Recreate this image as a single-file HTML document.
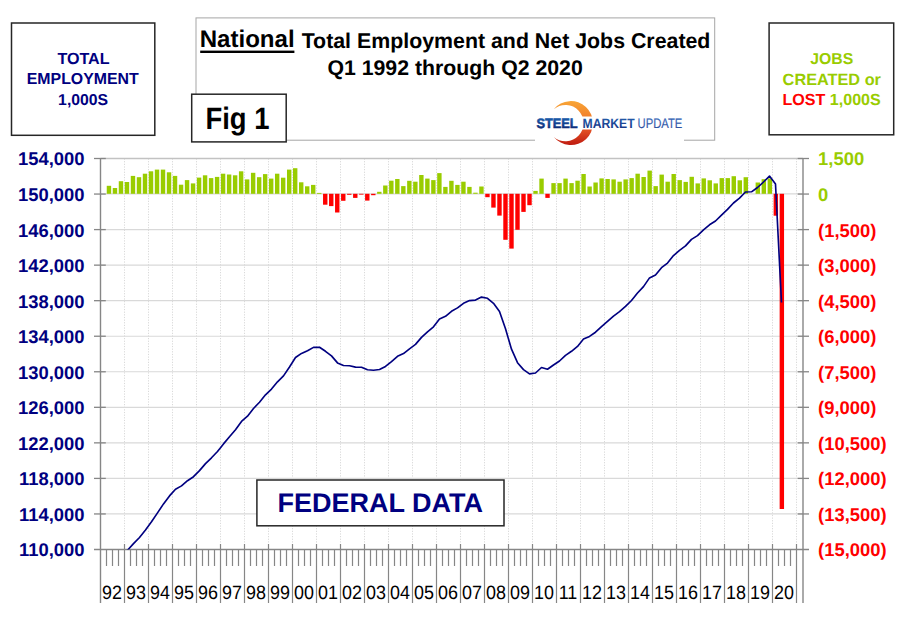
<!DOCTYPE html><html><head><meta charset="utf-8"><title>National Total Employment and Net Jobs Created</title><style>html,body{margin:0;padding:0;background:#fff;}svg{display:block;}</style></head><body>
<svg width="910" height="622" viewBox="0 0 910 622" font-family="Liberation Sans, Arial, sans-serif" text-rendering="geometricPrecision">
<rect x="0" y="0" width="910" height="622" fill="#fff"/>
<line x1="124.5" y1="158.5" x2="124.5" y2="549.5" stroke="#d9d9d9" stroke-width="1" stroke-dasharray="1.2 1.44"/>
<line x1="148.5" y1="158.5" x2="148.5" y2="549.5" stroke="#d9d9d9" stroke-width="1" stroke-dasharray="1.2 1.44"/>
<line x1="172.5" y1="158.5" x2="172.5" y2="549.5" stroke="#d9d9d9" stroke-width="1" stroke-dasharray="1.2 1.44"/>
<line x1="196.5" y1="158.5" x2="196.5" y2="549.5" stroke="#d9d9d9" stroke-width="1" stroke-dasharray="1.2 1.44"/>
<line x1="220.5" y1="158.5" x2="220.5" y2="549.5" stroke="#d9d9d9" stroke-width="1" stroke-dasharray="1.2 1.44"/>
<line x1="244.5" y1="158.5" x2="244.5" y2="549.5" stroke="#d9d9d9" stroke-width="1" stroke-dasharray="1.2 1.44"/>
<line x1="268.5" y1="158.5" x2="268.5" y2="549.5" stroke="#d9d9d9" stroke-width="1" stroke-dasharray="1.2 1.44"/>
<line x1="292.5" y1="158.5" x2="292.5" y2="549.5" stroke="#d9d9d9" stroke-width="1" stroke-dasharray="1.2 1.44"/>
<line x1="316.5" y1="158.5" x2="316.5" y2="549.5" stroke="#d9d9d9" stroke-width="1" stroke-dasharray="1.2 1.44"/>
<line x1="340.5" y1="158.5" x2="340.5" y2="549.5" stroke="#d9d9d9" stroke-width="1" stroke-dasharray="1.2 1.44"/>
<line x1="364.5" y1="158.5" x2="364.5" y2="549.5" stroke="#d9d9d9" stroke-width="1" stroke-dasharray="1.2 1.44"/>
<line x1="388.5" y1="158.5" x2="388.5" y2="549.5" stroke="#d9d9d9" stroke-width="1" stroke-dasharray="1.2 1.44"/>
<line x1="412.5" y1="158.5" x2="412.5" y2="549.5" stroke="#d9d9d9" stroke-width="1" stroke-dasharray="1.2 1.44"/>
<line x1="436.5" y1="158.5" x2="436.5" y2="549.5" stroke="#d9d9d9" stroke-width="1" stroke-dasharray="1.2 1.44"/>
<line x1="460.5" y1="158.5" x2="460.5" y2="549.5" stroke="#d9d9d9" stroke-width="1" stroke-dasharray="1.2 1.44"/>
<line x1="484.5" y1="158.5" x2="484.5" y2="549.5" stroke="#d9d9d9" stroke-width="1" stroke-dasharray="1.2 1.44"/>
<line x1="508.5" y1="158.5" x2="508.5" y2="549.5" stroke="#d9d9d9" stroke-width="1" stroke-dasharray="1.2 1.44"/>
<line x1="532.5" y1="158.5" x2="532.5" y2="549.5" stroke="#d9d9d9" stroke-width="1" stroke-dasharray="1.2 1.44"/>
<line x1="556.5" y1="158.5" x2="556.5" y2="549.5" stroke="#d9d9d9" stroke-width="1" stroke-dasharray="1.2 1.44"/>
<line x1="580.5" y1="158.5" x2="580.5" y2="549.5" stroke="#d9d9d9" stroke-width="1" stroke-dasharray="1.2 1.44"/>
<line x1="604.5" y1="158.5" x2="604.5" y2="549.5" stroke="#d9d9d9" stroke-width="1" stroke-dasharray="1.2 1.44"/>
<line x1="628.5" y1="158.5" x2="628.5" y2="549.5" stroke="#d9d9d9" stroke-width="1" stroke-dasharray="1.2 1.44"/>
<line x1="652.5" y1="158.5" x2="652.5" y2="549.5" stroke="#d9d9d9" stroke-width="1" stroke-dasharray="1.2 1.44"/>
<line x1="676.5" y1="158.5" x2="676.5" y2="549.5" stroke="#d9d9d9" stroke-width="1" stroke-dasharray="1.2 1.44"/>
<line x1="700.5" y1="158.5" x2="700.5" y2="549.5" stroke="#d9d9d9" stroke-width="1" stroke-dasharray="1.2 1.44"/>
<line x1="724.5" y1="158.5" x2="724.5" y2="549.5" stroke="#d9d9d9" stroke-width="1" stroke-dasharray="1.2 1.44"/>
<line x1="748.5" y1="158.5" x2="748.5" y2="549.5" stroke="#d9d9d9" stroke-width="1" stroke-dasharray="1.2 1.44"/>
<line x1="772.5" y1="158.5" x2="772.5" y2="549.5" stroke="#d9d9d9" stroke-width="1" stroke-dasharray="1.2 1.44"/>
<line x1="796.5" y1="158.5" x2="796.5" y2="549.5" stroke="#d9d9d9" stroke-width="1" stroke-dasharray="1.2 1.44"/>
<line x1="100.5" y1="158.50" x2="803.0" y2="158.50" stroke="#c2c2c2" stroke-width="1.4"/>
<line x1="100.5" y1="193.80" x2="803.0" y2="193.80" stroke="#d9d9d9" stroke-width="1.2"/>
<line x1="100.5" y1="229.59" x2="803.0" y2="229.59" stroke="#d9d9d9" stroke-width="1.2"/>
<line x1="100.5" y1="265.14" x2="803.0" y2="265.14" stroke="#d9d9d9" stroke-width="1.2"/>
<line x1="100.5" y1="300.68" x2="803.0" y2="300.68" stroke="#d9d9d9" stroke-width="1.2"/>
<line x1="100.5" y1="336.23" x2="803.0" y2="336.23" stroke="#d9d9d9" stroke-width="1.2"/>
<line x1="100.5" y1="371.77" x2="803.0" y2="371.77" stroke="#d9d9d9" stroke-width="1.2"/>
<line x1="100.5" y1="407.32" x2="803.0" y2="407.32" stroke="#d9d9d9" stroke-width="1.2"/>
<line x1="100.5" y1="442.86" x2="803.0" y2="442.86" stroke="#d9d9d9" stroke-width="1.2"/>
<line x1="100.5" y1="478.41" x2="803.0" y2="478.41" stroke="#d9d9d9" stroke-width="1.2"/>
<line x1="100.5" y1="513.95" x2="803.0" y2="513.95" stroke="#d9d9d9" stroke-width="1.2"/>
<rect x="106.75" y="185.8" width="4.4" height="8.0" fill="#99cc00"/>
<rect x="112.76" y="188.0" width="4.4" height="5.8" fill="#99cc00"/>
<rect x="118.77" y="181.2" width="4.4" height="12.6" fill="#99cc00"/>
<rect x="124.77" y="182.0" width="4.4" height="11.8" fill="#99cc00"/>
<rect x="130.78" y="175.9" width="4.4" height="17.9" fill="#99cc00"/>
<rect x="136.79" y="177.2" width="4.4" height="16.6" fill="#99cc00"/>
<rect x="142.80" y="173.7" width="4.4" height="20.1" fill="#99cc00"/>
<rect x="148.81" y="171.3" width="4.4" height="22.5" fill="#99cc00"/>
<rect x="154.81" y="169.6" width="4.4" height="24.2" fill="#99cc00"/>
<rect x="160.82" y="169.6" width="4.4" height="24.2" fill="#99cc00"/>
<rect x="166.83" y="172.3" width="4.4" height="21.5" fill="#99cc00"/>
<rect x="172.84" y="175.9" width="4.4" height="17.9" fill="#99cc00"/>
<rect x="178.85" y="184.7" width="4.4" height="9.1" fill="#99cc00"/>
<rect x="184.85" y="180.1" width="4.4" height="13.7" fill="#99cc00"/>
<rect x="190.86" y="183.4" width="4.4" height="10.4" fill="#99cc00"/>
<rect x="196.87" y="177.6" width="4.4" height="16.2" fill="#99cc00"/>
<rect x="202.88" y="175.3" width="4.4" height="18.5" fill="#99cc00"/>
<rect x="208.89" y="178.1" width="4.4" height="15.7" fill="#99cc00"/>
<rect x="214.89" y="176.9" width="4.4" height="16.9" fill="#99cc00"/>
<rect x="220.90" y="173.7" width="4.4" height="20.1" fill="#99cc00"/>
<rect x="226.91" y="174.5" width="4.4" height="19.3" fill="#99cc00"/>
<rect x="232.92" y="175.3" width="4.4" height="18.5" fill="#99cc00"/>
<rect x="238.93" y="171.3" width="4.4" height="22.5" fill="#99cc00"/>
<rect x="244.93" y="179.4" width="4.4" height="14.4" fill="#99cc00"/>
<rect x="250.94" y="172.8" width="4.4" height="21.0" fill="#99cc00"/>
<rect x="256.95" y="177.2" width="4.4" height="16.6" fill="#99cc00"/>
<rect x="262.96" y="174.1" width="4.4" height="19.7" fill="#99cc00"/>
<rect x="268.97" y="178.6" width="4.4" height="15.2" fill="#99cc00"/>
<rect x="274.97" y="173.7" width="4.4" height="20.1" fill="#99cc00"/>
<rect x="280.98" y="177.7" width="4.4" height="16.1" fill="#99cc00"/>
<rect x="286.99" y="169.6" width="4.4" height="24.2" fill="#99cc00"/>
<rect x="293.00" y="168.2" width="4.4" height="25.6" fill="#99cc00"/>
<rect x="299.01" y="182.3" width="4.4" height="11.5" fill="#99cc00"/>
<rect x="305.01" y="186.3" width="4.4" height="7.5" fill="#99cc00"/>
<rect x="311.02" y="184.9" width="4.4" height="8.9" fill="#99cc00"/>
<rect x="317.03" y="192.9" width="4.4" height="0.9" fill="#99cc00"/>
<rect x="323.04" y="193.8" width="4.4" height="10.9" fill="#ff0000"/>
<rect x="329.05" y="193.8" width="4.4" height="12.3" fill="#ff0000"/>
<rect x="335.05" y="193.8" width="4.4" height="18.7" fill="#ff0000"/>
<rect x="341.06" y="193.8" width="4.4" height="7.0" fill="#ff0000"/>
<rect x="347.07" y="193.8" width="4.4" height="1.0" fill="#ff0000"/>
<rect x="353.08" y="193.8" width="4.4" height="4.1" fill="#ff0000"/>
<rect x="359.09" y="193.8" width="4.4" height="0.8" fill="#ff0000"/>
<rect x="365.09" y="193.8" width="4.4" height="6.8" fill="#ff0000"/>
<rect x="371.10" y="193.8" width="4.4" height="1.4" fill="#ff0000"/>
<rect x="377.11" y="191.8" width="4.4" height="2.0" fill="#99cc00"/>
<rect x="383.12" y="185.5" width="4.4" height="8.3" fill="#99cc00"/>
<rect x="389.13" y="180.7" width="4.4" height="13.1" fill="#99cc00"/>
<rect x="395.13" y="179.0" width="4.4" height="14.8" fill="#99cc00"/>
<rect x="401.14" y="186.1" width="4.4" height="7.7" fill="#99cc00"/>
<rect x="407.15" y="180.8" width="4.4" height="13.0" fill="#99cc00"/>
<rect x="413.16" y="181.7" width="4.4" height="12.1" fill="#99cc00"/>
<rect x="419.17" y="175.0" width="4.4" height="18.8" fill="#99cc00"/>
<rect x="425.17" y="178.6" width="4.4" height="15.2" fill="#99cc00"/>
<rect x="431.18" y="180.1" width="4.4" height="13.7" fill="#99cc00"/>
<rect x="437.19" y="173.1" width="4.4" height="20.7" fill="#99cc00"/>
<rect x="443.20" y="186.9" width="4.4" height="6.9" fill="#99cc00"/>
<rect x="449.21" y="180.8" width="4.4" height="13.0" fill="#99cc00"/>
<rect x="455.21" y="184.9" width="4.4" height="8.9" fill="#99cc00"/>
<rect x="461.22" y="181.7" width="4.4" height="12.1" fill="#99cc00"/>
<rect x="467.23" y="186.9" width="4.4" height="6.9" fill="#99cc00"/>
<rect x="473.24" y="192.7" width="4.4" height="1.1" fill="#99cc00"/>
<rect x="479.25" y="186.5" width="4.4" height="7.3" fill="#99cc00"/>
<rect x="485.25" y="193.8" width="4.4" height="3.4" fill="#ff0000"/>
<rect x="491.26" y="193.8" width="4.4" height="13.8" fill="#ff0000"/>
<rect x="497.27" y="193.8" width="4.4" height="21.8" fill="#ff0000"/>
<rect x="503.28" y="193.8" width="4.4" height="46.0" fill="#ff0000"/>
<rect x="509.29" y="193.8" width="4.4" height="54.8" fill="#ff0000"/>
<rect x="515.29" y="193.8" width="4.4" height="36.0" fill="#ff0000"/>
<rect x="521.30" y="193.8" width="4.4" height="18.1" fill="#ff0000"/>
<rect x="527.31" y="193.8" width="4.4" height="11.4" fill="#ff0000"/>
<rect x="533.32" y="190.9" width="4.4" height="2.9" fill="#99cc00"/>
<rect x="539.33" y="178.6" width="4.4" height="15.2" fill="#99cc00"/>
<rect x="545.33" y="193.8" width="4.4" height="4.1" fill="#ff0000"/>
<rect x="551.34" y="183.1" width="4.4" height="10.7" fill="#99cc00"/>
<rect x="557.35" y="183.1" width="4.4" height="10.7" fill="#99cc00"/>
<rect x="563.36" y="178.6" width="4.4" height="15.2" fill="#99cc00"/>
<rect x="569.37" y="183.1" width="4.4" height="10.7" fill="#99cc00"/>
<rect x="575.37" y="180.7" width="4.4" height="13.1" fill="#99cc00"/>
<rect x="581.38" y="174.0" width="4.4" height="19.8" fill="#99cc00"/>
<rect x="587.39" y="186.5" width="4.4" height="7.3" fill="#99cc00"/>
<rect x="593.40" y="182.5" width="4.4" height="11.3" fill="#99cc00"/>
<rect x="599.41" y="178.4" width="4.4" height="15.4" fill="#99cc00"/>
<rect x="605.41" y="179.0" width="4.4" height="14.8" fill="#99cc00"/>
<rect x="611.42" y="179.4" width="4.4" height="14.4" fill="#99cc00"/>
<rect x="617.43" y="181.7" width="4.4" height="12.1" fill="#99cc00"/>
<rect x="623.44" y="179.4" width="4.4" height="14.4" fill="#99cc00"/>
<rect x="629.45" y="178.1" width="4.4" height="15.7" fill="#99cc00"/>
<rect x="635.45" y="173.7" width="4.4" height="20.1" fill="#99cc00"/>
<rect x="641.46" y="177.0" width="4.4" height="16.8" fill="#99cc00"/>
<rect x="647.47" y="170.6" width="4.4" height="23.2" fill="#99cc00"/>
<rect x="653.48" y="186.1" width="4.4" height="7.7" fill="#99cc00"/>
<rect x="659.49" y="174.6" width="4.4" height="19.2" fill="#99cc00"/>
<rect x="665.49" y="181.7" width="4.4" height="12.1" fill="#99cc00"/>
<rect x="671.50" y="174.0" width="4.4" height="19.8" fill="#99cc00"/>
<rect x="677.51" y="180.1" width="4.4" height="13.7" fill="#99cc00"/>
<rect x="683.52" y="181.9" width="4.4" height="11.9" fill="#99cc00"/>
<rect x="689.53" y="176.8" width="4.4" height="17.0" fill="#99cc00"/>
<rect x="695.53" y="183.4" width="4.4" height="10.4" fill="#99cc00"/>
<rect x="701.54" y="178.4" width="4.4" height="15.4" fill="#99cc00"/>
<rect x="707.55" y="180.3" width="4.4" height="13.5" fill="#99cc00"/>
<rect x="713.56" y="183.4" width="4.4" height="10.4" fill="#99cc00"/>
<rect x="719.57" y="178.1" width="4.4" height="15.7" fill="#99cc00"/>
<rect x="725.57" y="178.1" width="4.4" height="15.7" fill="#99cc00"/>
<rect x="731.58" y="176.2" width="4.4" height="17.6" fill="#99cc00"/>
<rect x="737.59" y="180.3" width="4.4" height="13.5" fill="#99cc00"/>
<rect x="743.60" y="177.2" width="4.4" height="16.6" fill="#99cc00"/>
<rect x="755.61" y="182.5" width="4.4" height="11.3" fill="#99cc00"/>
<rect x="761.62" y="179.2" width="4.4" height="14.6" fill="#99cc00"/>
<rect x="767.63" y="178.4" width="4.4" height="15.4" fill="#99cc00"/>
<rect x="773.64" y="193.8" width="4.4" height="21.9" fill="#ff0000"/>
<rect x="779.65" y="193.8" width="4.4" height="315.2" fill="#ff0000"/>
<line x1="100.5" y1="158.0" x2="100.5" y2="603" stroke="#868686" stroke-width="1.4"/>
<line x1="803.0" y1="158.0" x2="803.0" y2="603" stroke="#868686" stroke-width="1.4"/>
<line x1="94" y1="549.5" x2="809" y2="549.5" stroke="#868686" stroke-width="1.4"/>
<line x1="94" y1="158.50" x2="105.8" y2="158.50" stroke="#868686" stroke-width="1.3"/>
<line x1="797.7" y1="158.50" x2="809" y2="158.50" stroke="#868686" stroke-width="1.3"/>
<line x1="94" y1="194.05" x2="105.8" y2="194.05" stroke="#868686" stroke-width="1.3"/>
<line x1="797.7" y1="194.05" x2="809" y2="194.05" stroke="#868686" stroke-width="1.3"/>
<line x1="94" y1="229.59" x2="105.8" y2="229.59" stroke="#868686" stroke-width="1.3"/>
<line x1="797.7" y1="229.59" x2="809" y2="229.59" stroke="#868686" stroke-width="1.3"/>
<line x1="94" y1="265.14" x2="105.8" y2="265.14" stroke="#868686" stroke-width="1.3"/>
<line x1="797.7" y1="265.14" x2="809" y2="265.14" stroke="#868686" stroke-width="1.3"/>
<line x1="94" y1="300.68" x2="105.8" y2="300.68" stroke="#868686" stroke-width="1.3"/>
<line x1="797.7" y1="300.68" x2="809" y2="300.68" stroke="#868686" stroke-width="1.3"/>
<line x1="94" y1="336.23" x2="105.8" y2="336.23" stroke="#868686" stroke-width="1.3"/>
<line x1="797.7" y1="336.23" x2="809" y2="336.23" stroke="#868686" stroke-width="1.3"/>
<line x1="94" y1="371.77" x2="105.8" y2="371.77" stroke="#868686" stroke-width="1.3"/>
<line x1="797.7" y1="371.77" x2="809" y2="371.77" stroke="#868686" stroke-width="1.3"/>
<line x1="94" y1="407.32" x2="105.8" y2="407.32" stroke="#868686" stroke-width="1.3"/>
<line x1="797.7" y1="407.32" x2="809" y2="407.32" stroke="#868686" stroke-width="1.3"/>
<line x1="94" y1="442.86" x2="105.8" y2="442.86" stroke="#868686" stroke-width="1.3"/>
<line x1="797.7" y1="442.86" x2="809" y2="442.86" stroke="#868686" stroke-width="1.3"/>
<line x1="94" y1="478.41" x2="105.8" y2="478.41" stroke="#868686" stroke-width="1.3"/>
<line x1="797.7" y1="478.41" x2="809" y2="478.41" stroke="#868686" stroke-width="1.3"/>
<line x1="94" y1="513.95" x2="105.8" y2="513.95" stroke="#868686" stroke-width="1.3"/>
<line x1="797.7" y1="513.95" x2="809" y2="513.95" stroke="#868686" stroke-width="1.3"/>
<line x1="124.5" y1="544" x2="124.5" y2="603" stroke="#868686" stroke-width="1.2"/>
<line x1="148.5" y1="544" x2="148.5" y2="603" stroke="#868686" stroke-width="1.2"/>
<line x1="172.5" y1="544" x2="172.5" y2="603" stroke="#868686" stroke-width="1.2"/>
<line x1="196.5" y1="544" x2="196.5" y2="603" stroke="#868686" stroke-width="1.2"/>
<line x1="220.5" y1="544" x2="220.5" y2="603" stroke="#868686" stroke-width="1.2"/>
<line x1="244.5" y1="544" x2="244.5" y2="603" stroke="#868686" stroke-width="1.2"/>
<line x1="268.5" y1="544" x2="268.5" y2="603" stroke="#868686" stroke-width="1.2"/>
<line x1="292.5" y1="544" x2="292.5" y2="603" stroke="#868686" stroke-width="1.2"/>
<line x1="316.5" y1="544" x2="316.5" y2="603" stroke="#868686" stroke-width="1.2"/>
<line x1="340.5" y1="544" x2="340.5" y2="603" stroke="#868686" stroke-width="1.2"/>
<line x1="364.5" y1="544" x2="364.5" y2="603" stroke="#868686" stroke-width="1.2"/>
<line x1="388.5" y1="544" x2="388.5" y2="603" stroke="#868686" stroke-width="1.2"/>
<line x1="412.5" y1="544" x2="412.5" y2="603" stroke="#868686" stroke-width="1.2"/>
<line x1="436.5" y1="544" x2="436.5" y2="603" stroke="#868686" stroke-width="1.2"/>
<line x1="460.5" y1="544" x2="460.5" y2="603" stroke="#868686" stroke-width="1.2"/>
<line x1="484.5" y1="544" x2="484.5" y2="603" stroke="#868686" stroke-width="1.2"/>
<line x1="508.5" y1="544" x2="508.5" y2="603" stroke="#868686" stroke-width="1.2"/>
<line x1="532.5" y1="544" x2="532.5" y2="603" stroke="#868686" stroke-width="1.2"/>
<line x1="556.5" y1="544" x2="556.5" y2="603" stroke="#868686" stroke-width="1.2"/>
<line x1="580.5" y1="544" x2="580.5" y2="603" stroke="#868686" stroke-width="1.2"/>
<line x1="604.5" y1="544" x2="604.5" y2="603" stroke="#868686" stroke-width="1.2"/>
<line x1="628.5" y1="544" x2="628.5" y2="603" stroke="#868686" stroke-width="1.2"/>
<line x1="652.5" y1="544" x2="652.5" y2="603" stroke="#868686" stroke-width="1.2"/>
<line x1="676.5" y1="544" x2="676.5" y2="603" stroke="#868686" stroke-width="1.2"/>
<line x1="700.5" y1="544" x2="700.5" y2="603" stroke="#868686" stroke-width="1.2"/>
<line x1="724.5" y1="544" x2="724.5" y2="603" stroke="#868686" stroke-width="1.2"/>
<line x1="748.5" y1="544" x2="748.5" y2="603" stroke="#868686" stroke-width="1.2"/>
<line x1="772.5" y1="544" x2="772.5" y2="603" stroke="#868686" stroke-width="1.2"/>
<line x1="796.5" y1="544" x2="796.5" y2="603" stroke="#868686" stroke-width="1.2"/>
<line x1="106.5" y1="549.5" x2="106.5" y2="566" stroke="#868686" stroke-width="1.2"/>
<line x1="112.5" y1="549.5" x2="112.5" y2="566" stroke="#868686" stroke-width="1.2"/>
<line x1="118.5" y1="549.5" x2="118.5" y2="566" stroke="#868686" stroke-width="1.2"/>
<line x1="130.5" y1="549.5" x2="130.5" y2="566" stroke="#868686" stroke-width="1.2"/>
<line x1="136.5" y1="549.5" x2="136.5" y2="566" stroke="#868686" stroke-width="1.2"/>
<line x1="142.5" y1="549.5" x2="142.5" y2="566" stroke="#868686" stroke-width="1.2"/>
<line x1="154.5" y1="549.5" x2="154.5" y2="566" stroke="#868686" stroke-width="1.2"/>
<line x1="160.5" y1="549.5" x2="160.5" y2="566" stroke="#868686" stroke-width="1.2"/>
<line x1="166.5" y1="549.5" x2="166.5" y2="566" stroke="#868686" stroke-width="1.2"/>
<line x1="178.5" y1="549.5" x2="178.5" y2="566" stroke="#868686" stroke-width="1.2"/>
<line x1="184.5" y1="549.5" x2="184.5" y2="566" stroke="#868686" stroke-width="1.2"/>
<line x1="190.5" y1="549.5" x2="190.5" y2="566" stroke="#868686" stroke-width="1.2"/>
<line x1="202.5" y1="549.5" x2="202.5" y2="566" stroke="#868686" stroke-width="1.2"/>
<line x1="208.5" y1="549.5" x2="208.5" y2="566" stroke="#868686" stroke-width="1.2"/>
<line x1="214.5" y1="549.5" x2="214.5" y2="566" stroke="#868686" stroke-width="1.2"/>
<line x1="226.5" y1="549.5" x2="226.5" y2="566" stroke="#868686" stroke-width="1.2"/>
<line x1="232.5" y1="549.5" x2="232.5" y2="566" stroke="#868686" stroke-width="1.2"/>
<line x1="238.5" y1="549.5" x2="238.5" y2="566" stroke="#868686" stroke-width="1.2"/>
<line x1="250.5" y1="549.5" x2="250.5" y2="566" stroke="#868686" stroke-width="1.2"/>
<line x1="256.5" y1="549.5" x2="256.5" y2="566" stroke="#868686" stroke-width="1.2"/>
<line x1="262.5" y1="549.5" x2="262.5" y2="566" stroke="#868686" stroke-width="1.2"/>
<line x1="274.5" y1="549.5" x2="274.5" y2="566" stroke="#868686" stroke-width="1.2"/>
<line x1="280.5" y1="549.5" x2="280.5" y2="566" stroke="#868686" stroke-width="1.2"/>
<line x1="286.5" y1="549.5" x2="286.5" y2="566" stroke="#868686" stroke-width="1.2"/>
<line x1="298.5" y1="549.5" x2="298.5" y2="566" stroke="#868686" stroke-width="1.2"/>
<line x1="304.5" y1="549.5" x2="304.5" y2="566" stroke="#868686" stroke-width="1.2"/>
<line x1="310.5" y1="549.5" x2="310.5" y2="566" stroke="#868686" stroke-width="1.2"/>
<line x1="322.5" y1="549.5" x2="322.5" y2="566" stroke="#868686" stroke-width="1.2"/>
<line x1="328.5" y1="549.5" x2="328.5" y2="566" stroke="#868686" stroke-width="1.2"/>
<line x1="334.5" y1="549.5" x2="334.5" y2="566" stroke="#868686" stroke-width="1.2"/>
<line x1="346.5" y1="549.5" x2="346.5" y2="566" stroke="#868686" stroke-width="1.2"/>
<line x1="352.5" y1="549.5" x2="352.5" y2="566" stroke="#868686" stroke-width="1.2"/>
<line x1="358.5" y1="549.5" x2="358.5" y2="566" stroke="#868686" stroke-width="1.2"/>
<line x1="370.5" y1="549.5" x2="370.5" y2="566" stroke="#868686" stroke-width="1.2"/>
<line x1="376.5" y1="549.5" x2="376.5" y2="566" stroke="#868686" stroke-width="1.2"/>
<line x1="382.5" y1="549.5" x2="382.5" y2="566" stroke="#868686" stroke-width="1.2"/>
<line x1="394.5" y1="549.5" x2="394.5" y2="566" stroke="#868686" stroke-width="1.2"/>
<line x1="400.5" y1="549.5" x2="400.5" y2="566" stroke="#868686" stroke-width="1.2"/>
<line x1="406.5" y1="549.5" x2="406.5" y2="566" stroke="#868686" stroke-width="1.2"/>
<line x1="418.5" y1="549.5" x2="418.5" y2="566" stroke="#868686" stroke-width="1.2"/>
<line x1="424.5" y1="549.5" x2="424.5" y2="566" stroke="#868686" stroke-width="1.2"/>
<line x1="430.5" y1="549.5" x2="430.5" y2="566" stroke="#868686" stroke-width="1.2"/>
<line x1="442.5" y1="549.5" x2="442.5" y2="566" stroke="#868686" stroke-width="1.2"/>
<line x1="448.5" y1="549.5" x2="448.5" y2="566" stroke="#868686" stroke-width="1.2"/>
<line x1="454.5" y1="549.5" x2="454.5" y2="566" stroke="#868686" stroke-width="1.2"/>
<line x1="466.5" y1="549.5" x2="466.5" y2="566" stroke="#868686" stroke-width="1.2"/>
<line x1="472.5" y1="549.5" x2="472.5" y2="566" stroke="#868686" stroke-width="1.2"/>
<line x1="478.5" y1="549.5" x2="478.5" y2="566" stroke="#868686" stroke-width="1.2"/>
<line x1="490.5" y1="549.5" x2="490.5" y2="566" stroke="#868686" stroke-width="1.2"/>
<line x1="496.5" y1="549.5" x2="496.5" y2="566" stroke="#868686" stroke-width="1.2"/>
<line x1="502.5" y1="549.5" x2="502.5" y2="566" stroke="#868686" stroke-width="1.2"/>
<line x1="514.5" y1="549.5" x2="514.5" y2="566" stroke="#868686" stroke-width="1.2"/>
<line x1="520.5" y1="549.5" x2="520.5" y2="566" stroke="#868686" stroke-width="1.2"/>
<line x1="526.5" y1="549.5" x2="526.5" y2="566" stroke="#868686" stroke-width="1.2"/>
<line x1="538.5" y1="549.5" x2="538.5" y2="566" stroke="#868686" stroke-width="1.2"/>
<line x1="544.5" y1="549.5" x2="544.5" y2="566" stroke="#868686" stroke-width="1.2"/>
<line x1="550.5" y1="549.5" x2="550.5" y2="566" stroke="#868686" stroke-width="1.2"/>
<line x1="562.5" y1="549.5" x2="562.5" y2="566" stroke="#868686" stroke-width="1.2"/>
<line x1="568.5" y1="549.5" x2="568.5" y2="566" stroke="#868686" stroke-width="1.2"/>
<line x1="574.5" y1="549.5" x2="574.5" y2="566" stroke="#868686" stroke-width="1.2"/>
<line x1="586.5" y1="549.5" x2="586.5" y2="566" stroke="#868686" stroke-width="1.2"/>
<line x1="592.5" y1="549.5" x2="592.5" y2="566" stroke="#868686" stroke-width="1.2"/>
<line x1="598.5" y1="549.5" x2="598.5" y2="566" stroke="#868686" stroke-width="1.2"/>
<line x1="610.5" y1="549.5" x2="610.5" y2="566" stroke="#868686" stroke-width="1.2"/>
<line x1="616.5" y1="549.5" x2="616.5" y2="566" stroke="#868686" stroke-width="1.2"/>
<line x1="622.5" y1="549.5" x2="622.5" y2="566" stroke="#868686" stroke-width="1.2"/>
<line x1="634.5" y1="549.5" x2="634.5" y2="566" stroke="#868686" stroke-width="1.2"/>
<line x1="640.5" y1="549.5" x2="640.5" y2="566" stroke="#868686" stroke-width="1.2"/>
<line x1="646.5" y1="549.5" x2="646.5" y2="566" stroke="#868686" stroke-width="1.2"/>
<line x1="658.5" y1="549.5" x2="658.5" y2="566" stroke="#868686" stroke-width="1.2"/>
<line x1="664.5" y1="549.5" x2="664.5" y2="566" stroke="#868686" stroke-width="1.2"/>
<line x1="670.5" y1="549.5" x2="670.5" y2="566" stroke="#868686" stroke-width="1.2"/>
<line x1="682.5" y1="549.5" x2="682.5" y2="566" stroke="#868686" stroke-width="1.2"/>
<line x1="688.5" y1="549.5" x2="688.5" y2="566" stroke="#868686" stroke-width="1.2"/>
<line x1="694.5" y1="549.5" x2="694.5" y2="566" stroke="#868686" stroke-width="1.2"/>
<line x1="706.5" y1="549.5" x2="706.5" y2="566" stroke="#868686" stroke-width="1.2"/>
<line x1="712.5" y1="549.5" x2="712.5" y2="566" stroke="#868686" stroke-width="1.2"/>
<line x1="718.5" y1="549.5" x2="718.5" y2="566" stroke="#868686" stroke-width="1.2"/>
<line x1="730.5" y1="549.5" x2="730.5" y2="566" stroke="#868686" stroke-width="1.2"/>
<line x1="736.5" y1="549.5" x2="736.5" y2="566" stroke="#868686" stroke-width="1.2"/>
<line x1="742.5" y1="549.5" x2="742.5" y2="566" stroke="#868686" stroke-width="1.2"/>
<line x1="754.5" y1="549.5" x2="754.5" y2="566" stroke="#868686" stroke-width="1.2"/>
<line x1="760.5" y1="549.5" x2="760.5" y2="566" stroke="#868686" stroke-width="1.2"/>
<line x1="766.5" y1="549.5" x2="766.5" y2="566" stroke="#868686" stroke-width="1.2"/>
<line x1="778.5" y1="549.5" x2="778.5" y2="566" stroke="#868686" stroke-width="1.2"/>
<line x1="784.5" y1="549.5" x2="784.5" y2="566" stroke="#868686" stroke-width="1.2"/>
<line x1="790.5" y1="549.5" x2="790.5" y2="566" stroke="#868686" stroke-width="1.2"/>
<defs><clipPath id="pc"><rect x="100.5" y="153.5" width="702.5" height="396.0"/></clipPath></defs>
<polyline clip-path="url(#pc)" points="103.5,564.1 109.5,561.1 115.5,559.1 121.5,554.5 127.5,550.2 133.5,543.6 139.5,537.5 145.5,530.0 151.5,521.8 157.5,512.9 163.5,503.9 169.5,495.9 175.5,489.2 181.5,485.9 187.5,480.7 193.5,476.7 199.5,470.6 205.5,463.6 211.5,457.8 217.5,451.5 223.5,443.9 229.5,436.7 235.5,429.7 241.5,421.4 247.5,416.2 253.5,408.5 259.5,402.2 265.5,394.8 271.5,389.1 277.5,381.8 283.5,375.9 289.5,367.0 295.5,357.5 301.5,353.4 307.5,350.7 313.5,347.4 319.5,347.2 325.5,351.3 331.5,355.9 337.5,362.9 343.5,365.5 349.5,365.7 355.5,367.1 361.5,367.3 367.5,369.8 373.5,370.3 379.5,369.5 385.5,366.4 391.5,361.6 397.5,356.3 403.5,353.6 409.5,348.8 415.5,344.4 421.5,337.4 427.5,331.8 433.5,326.8 439.5,318.9 445.5,316.3 451.5,311.3 457.5,307.9 463.5,303.3 469.5,300.6 475.5,300.1 481.5,297.1 487.5,298.3 493.5,303.3 499.5,311.5 505.5,328.7 511.5,349.2 517.5,362.7 523.5,369.6 529.5,373.9 535.5,373.0 541.5,367.5 547.5,369.2 553.5,365.0 559.5,361.0 565.5,355.4 571.5,351.3 577.5,346.4 583.5,339.1 589.5,336.4 595.5,332.2 601.5,326.6 607.5,321.3 613.5,316.1 619.5,311.6 625.5,306.4 631.5,300.5 637.5,293.0 643.5,286.6 649.5,277.9 655.5,275.0 661.5,267.7 667.5,263.1 673.5,255.6 679.5,250.3 685.5,245.9 691.5,239.4 697.5,235.6 703.5,229.8 709.5,224.8 715.5,221.0 721.5,215.2 727.5,209.4 733.5,203.0 739.5,198.1 745.5,192.0 751.5,191.8 757.5,187.5 763.5,182.0 769.5,176.1 775.5,184.1 781.5,302.5" fill="none" stroke="#000080" stroke-width="1.65" stroke-linejoin="round"/>
<text x="84.5" y="165.4" font-size="18.4" font-weight="bold" fill="#000080" text-anchor="end">154,000</text>
<text x="84.5" y="200.9" font-size="18.4" font-weight="bold" fill="#000080" text-anchor="end">150,000</text>
<text x="84.5" y="236.5" font-size="18.4" font-weight="bold" fill="#000080" text-anchor="end">146,000</text>
<text x="84.5" y="272.0" font-size="18.4" font-weight="bold" fill="#000080" text-anchor="end">142,000</text>
<text x="84.5" y="307.6" font-size="18.4" font-weight="bold" fill="#000080" text-anchor="end">138,000</text>
<text x="84.5" y="343.1" font-size="18.4" font-weight="bold" fill="#000080" text-anchor="end">134,000</text>
<text x="84.5" y="378.7" font-size="18.4" font-weight="bold" fill="#000080" text-anchor="end">130,000</text>
<text x="84.5" y="414.2" font-size="18.4" font-weight="bold" fill="#000080" text-anchor="end">126,000</text>
<text x="84.5" y="449.8" font-size="18.4" font-weight="bold" fill="#000080" text-anchor="end">122,000</text>
<text x="84.5" y="485.3" font-size="18.4" font-weight="bold" fill="#000080" text-anchor="end">118,000</text>
<text x="84.5" y="520.9" font-size="18.4" font-weight="bold" fill="#000080" text-anchor="end">114,000</text>
<text x="84.5" y="556.4" font-size="18.4" font-weight="bold" fill="#000080" text-anchor="end">110,000</text>
<text x="818.1" y="165.4" font-size="18.4" font-weight="bold" fill="#99cc00">1,500</text>
<text x="818.1" y="200.9" font-size="18.4" font-weight="bold" fill="#99cc00">0</text>
<text x="818.1" y="236.5" font-size="18.4" font-weight="bold" fill="#ff0000">(1,500)</text>
<text x="818.1" y="272.0" font-size="18.4" font-weight="bold" fill="#ff0000">(3,000)</text>
<text x="818.1" y="307.6" font-size="18.4" font-weight="bold" fill="#ff0000">(4,500)</text>
<text x="818.1" y="343.1" font-size="18.4" font-weight="bold" fill="#ff0000">(6,000)</text>
<text x="818.1" y="378.7" font-size="18.4" font-weight="bold" fill="#ff0000">(7,500)</text>
<text x="818.1" y="414.2" font-size="18.4" font-weight="bold" fill="#ff0000">(9,000)</text>
<text x="818.1" y="449.8" font-size="18.4" font-weight="bold" fill="#ff0000">(10,500)</text>
<text x="818.1" y="485.3" font-size="18.4" font-weight="bold" fill="#ff0000">(12,000)</text>
<text x="818.1" y="520.9" font-size="18.4" font-weight="bold" fill="#ff0000">(13,500)</text>
<text x="818.1" y="556.4" font-size="18.4" font-weight="bold" fill="#ff0000">(15,000)</text>
<text transform="translate(112.00,598.7) scale(0.93,1)" font-size="19.3" fill="#000" text-anchor="middle">92</text>
<text transform="translate(136.00,598.7) scale(0.93,1)" font-size="19.3" fill="#000" text-anchor="middle">93</text>
<text transform="translate(160.00,598.7) scale(0.93,1)" font-size="19.3" fill="#000" text-anchor="middle">94</text>
<text transform="translate(184.00,598.7) scale(0.93,1)" font-size="19.3" fill="#000" text-anchor="middle">95</text>
<text transform="translate(208.00,598.7) scale(0.93,1)" font-size="19.3" fill="#000" text-anchor="middle">96</text>
<text transform="translate(232.00,598.7) scale(0.93,1)" font-size="19.3" fill="#000" text-anchor="middle">97</text>
<text transform="translate(256.00,598.7) scale(0.93,1)" font-size="19.3" fill="#000" text-anchor="middle">98</text>
<text transform="translate(280.00,598.7) scale(0.93,1)" font-size="19.3" fill="#000" text-anchor="middle">99</text>
<text transform="translate(304.00,598.7) scale(0.93,1)" font-size="19.3" fill="#000" text-anchor="middle">00</text>
<text transform="translate(328.00,598.7) scale(0.93,1)" font-size="19.3" fill="#000" text-anchor="middle">01</text>
<text transform="translate(352.00,598.7) scale(0.93,1)" font-size="19.3" fill="#000" text-anchor="middle">02</text>
<text transform="translate(376.00,598.7) scale(0.93,1)" font-size="19.3" fill="#000" text-anchor="middle">03</text>
<text transform="translate(400.00,598.7) scale(0.93,1)" font-size="19.3" fill="#000" text-anchor="middle">04</text>
<text transform="translate(424.00,598.7) scale(0.93,1)" font-size="19.3" fill="#000" text-anchor="middle">05</text>
<text transform="translate(448.00,598.7) scale(0.93,1)" font-size="19.3" fill="#000" text-anchor="middle">06</text>
<text transform="translate(472.00,598.7) scale(0.93,1)" font-size="19.3" fill="#000" text-anchor="middle">07</text>
<text transform="translate(496.00,598.7) scale(0.93,1)" font-size="19.3" fill="#000" text-anchor="middle">08</text>
<text transform="translate(520.00,598.7) scale(0.93,1)" font-size="19.3" fill="#000" text-anchor="middle">09</text>
<text transform="translate(544.00,598.7) scale(0.93,1)" font-size="19.3" fill="#000" text-anchor="middle">10</text>
<text transform="translate(568.00,598.7) scale(0.93,1)" font-size="19.3" fill="#000" text-anchor="middle">11</text>
<text transform="translate(592.00,598.7) scale(0.93,1)" font-size="19.3" fill="#000" text-anchor="middle">12</text>
<text transform="translate(616.00,598.7) scale(0.93,1)" font-size="19.3" fill="#000" text-anchor="middle">13</text>
<text transform="translate(640.00,598.7) scale(0.93,1)" font-size="19.3" fill="#000" text-anchor="middle">14</text>
<text transform="translate(664.00,598.7) scale(0.93,1)" font-size="19.3" fill="#000" text-anchor="middle">15</text>
<text transform="translate(688.00,598.7) scale(0.93,1)" font-size="19.3" fill="#000" text-anchor="middle">16</text>
<text transform="translate(712.00,598.7) scale(0.93,1)" font-size="19.3" fill="#000" text-anchor="middle">17</text>
<text transform="translate(736.00,598.7) scale(0.93,1)" font-size="19.3" fill="#000" text-anchor="middle">18</text>
<text transform="translate(760.00,598.7) scale(0.93,1)" font-size="19.3" fill="#000" text-anchor="middle">19</text>
<text transform="translate(784.00,598.7) scale(0.93,1)" font-size="19.3" fill="#000" text-anchor="middle">20</text>
<rect x="11.5" y="23" width="143.3" height="112.3" fill="#fff" stroke="#262626" stroke-width="1.5"/>
<text transform="translate(57.39,64.04) scale(1.000,1)" font-size="16.13" font-weight="bold" fill="#000080">TOTAL</text>
<text transform="translate(26.76,84.42) scale(1.000,1)" font-size="15.89" font-weight="bold" fill="#000080">EMPLOYMENT</text>
<text transform="translate(58.11,104.70) scale(1.000,1)" font-size="15.77" font-weight="bold" fill="#000080">1,000S</text>
<rect x="769.1" y="23" width="124.6" height="111.8" fill="#fff" stroke="#262626" stroke-width="1.5"/>
<text transform="translate(810.28,63.64) scale(1.000,1)" font-size="15.80" font-weight="bold" fill="#99cc00">JOBS</text>
<text transform="translate(782.62,84.86) scale(1.000,1)" font-size="16.29" font-weight="bold" fill="#99cc00">CREATED or</text>
<text transform="translate(782.39,104.92) scale(1.000,1)" font-size="16.10" font-weight="bold" fill="#99cc00"><tspan fill="#ff0000">LOST</tspan> 1,000S</text>
<rect x="196" y="17.9" width="518.7" height="122.3" fill="#fff" stroke="#a6a6a6" stroke-width="1"/>
<text transform="translate(199.67,47.32) scale(1.000,1)" font-size="24.09" font-weight="bold" fill="#000">National</text>
<text transform="translate(301.65,47.54) scale(1.000,1)" font-size="21.35" font-weight="bold" fill="#000">Total Employment and Net Jobs Created</text>
<rect x="200.2" y="50.6" width="94.2" height="2.4" fill="#000"/>
<text transform="translate(327.44,75.00) scale(1.000,1)" font-size="21.28" font-weight="bold" fill="#000">Q1 1992 through Q2 2020</text>
<rect x="191.7" y="94.2" width="94.5" height="47.7" fill="#fff" stroke="#262626" stroke-width="1.5"/>
<text transform="translate(205.40,128.50) scale(0.885,1)" font-size="31.00" font-weight="bold" fill="#000">Fig 1</text>
<defs><linearGradient id="arc" x1="0" y1="0" x2="0" y2="1"><stop offset="0" stop-color="#f8a535"/><stop offset="0.45" stop-color="#f0772a"/><stop offset="0.62" stop-color="#e65626"/><stop offset="1" stop-color="#bf1a10"/></linearGradient><linearGradient id="bl" x1="0" y1="0" x2="0" y2="1"><stop offset="0" stop-color="#1d68b8"/><stop offset="1" stop-color="#0a226e"/></linearGradient><linearGradient id="bl2" x1="0" y1="0" x2="0" y2="1"><stop offset="0" stop-color="#2563b0"/><stop offset="1" stop-color="#142f80"/></linearGradient><linearGradient id="bl3" x1="0" y1="0" x2="0" y2="1"><stop offset="0" stop-color="#3f70bf"/><stop offset="1" stop-color="#2a4a9a"/></linearGradient></defs>
<rect x="535" y="136" width="149" height="8" fill="#fff"/>
<path d="M553.8,109.3 A22,22 0 1 1 553.8,136.9 A18.1,18.1 0 1 0 553.8,109.3 Z" fill="url(#arc)"/>
<rect x="578" y="116.5" width="17" height="13" fill="#fff"/>
<text transform="translate(536.4,127.6) scale(0.94,1)" font-size="13.6" font-weight="bold" fill="url(#bl)" stroke="url(#bl)" stroke-width="0.55">STEEL</text>
<text transform="translate(582.6,127.7) scale(0.915,1)" font-size="13.3" font-weight="bold" fill="url(#bl2)" stroke="none">MARKET</text>
<text transform="translate(637.6,127.7) scale(0.82,1)" font-size="13.7" fill="url(#bl3)" stroke="url(#bl3)" stroke-width="0.15">UPDATE</text>
<rect x="256.9" y="480" width="247.1" height="45.8" fill="#fff" stroke="#262626" stroke-width="1.5"/>
<text transform="translate(277.48,512.42) scale(1.000,1)" font-size="27.00" font-weight="bold" fill="#000080">FEDERAL DATA</text>
</svg></body></html>
